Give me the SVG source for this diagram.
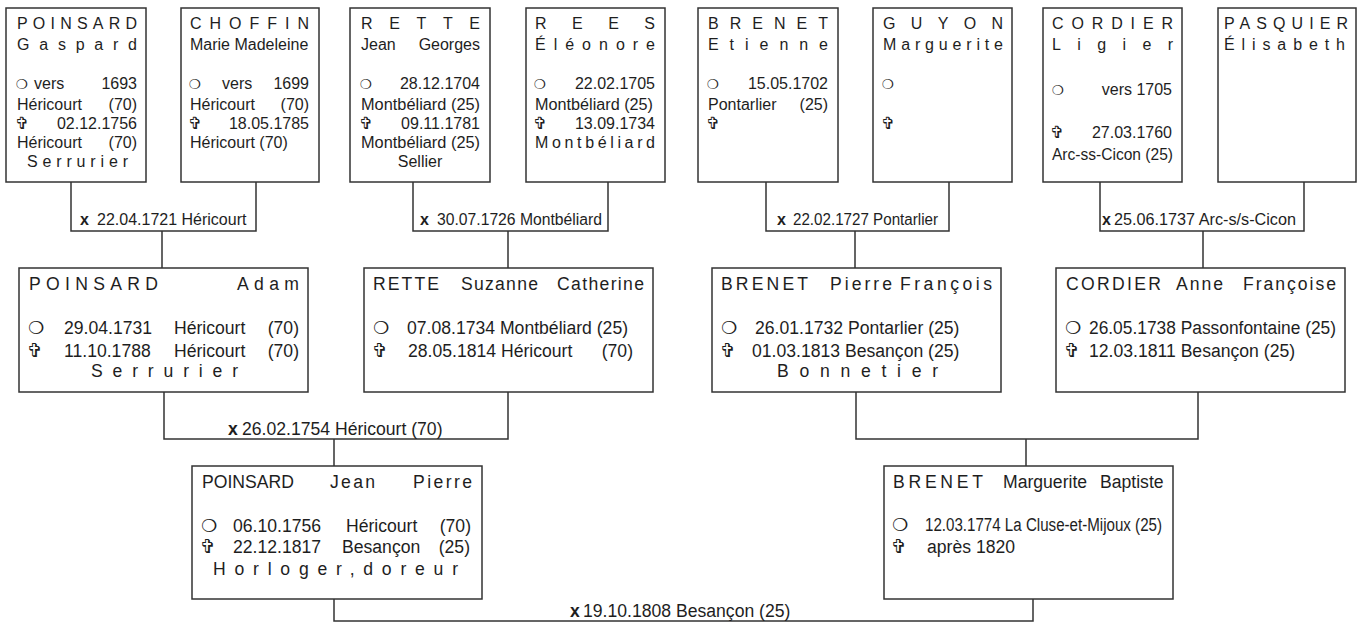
<svg xmlns="http://www.w3.org/2000/svg" width="1364" height="623" viewBox="0 0 1364 623">
<style>
.box{fill:#fff;stroke:#333;stroke-width:1.5}
.ln{fill:none;stroke:#333;stroke-width:1.5}
text{font-family:"Liberation Sans",Arial,sans-serif;fill:#1e1e1e}
.a{font-size:16px}
.b{font-size:17.6px}
.e{text-anchor:end}
.c{text-anchor:middle}
.x{font-weight:bold}
.s1{font-family:"DejaVu Sans",sans-serif;font-size:13.5px}
.s2{font-family:"DejaVu Sans",sans-serif;font-size:17px}
.s3{font-family:"DejaVu Sans",sans-serif;font-size:18px}
.s4{font-family:"DejaVu Sans",sans-serif;font-size:19px}
</style>
<rect width="1364" height="623" fill="#fff"/>
<g id="connectors">
<path class="ln" d="M71 182V231H256V182M162 231V268"/>
<path class="ln" d="M413 182V231H608V182M508 231V268"/>
<path class="ln" d="M766 182V231H949V182M855 231V268"/>
<path class="ln" d="M1100 182V231H1304V182M1203 231V268"/>
<path class="ln" d="M164 392V439H508V392M334 439V466"/>
<path class="ln" d="M856 392V439H1198V392M1026 439V466"/>
<path class="ln" d="M334 599V621H1033V599"/>
</g>
<g id="marriages">
<text class="a x" x="80" y="225">x</text><text class="a" x="97" y="225">22.04.1721 Héricourt</text>
<text class="a x" x="420" y="225">x</text><text class="a" x="437" y="225" textLength="165" lengthAdjust="spacingAndGlyphs">30.07.1726 Montbéliard</text>
<text class="a x" x="777" y="225">x</text><text class="a" x="793" y="225" textLength="145" lengthAdjust="spacingAndGlyphs">22.02.1727 Pontarlier</text>
<text class="a x" x="1102" y="225">x</text><text class="a" x="1114" y="225" textLength="182" lengthAdjust="spacingAndGlyphs">25.06.1737 Arc-s/s-Cicon</text>
<text class="b x" x="228" y="435">x</text><text class="b" x="242" y="435">26.02.1754 Héricourt (70)</text>
<text class="b x" x="570" y="617">x</text><text class="b" x="583" y="617">19.10.1808 Besançon (25)</text>
</g>
<g id="poinsard-gaspard">
<rect class="box" x="6" y="8" width="140" height="174"/>
<text class="a" x="17" y="29" textLength="120" lengthAdjust="spacing">POINSARD</text>
<text class="a" x="17" y="50" textLength="120" lengthAdjust="spacing">Gaspard</text>
<text class="s1" x="16" y="89">❍</text><text class="a" x="34" y="89">vers</text><text class="a e" x="137" y="89">1693</text>
<text class="a" x="17" y="110">Héricourt</text><text class="a e" x="137" y="110">(70)</text>
<text class="s2" x="15" y="129">✞</text><text class="a e" x="137" y="129">02.12.1756</text>
<text class="a" x="17" y="148">Héricourt</text><text class="a e" x="137" y="148">(70)</text>
<text class="a" x="27" y="167" textLength="101" lengthAdjust="spacing">Serrurier</text>
</g>
<g id="choffin-marie">
<rect class="box" x="181" y="8" width="138" height="174"/>
<text class="a" x="190" y="29" textLength="119" lengthAdjust="spacing">CHOFFIN</text>
<text class="a" x="190" y="50">Marie Madeleine</text>
<text class="s1" x="189" y="89">❍</text><text class="a" x="222" y="89">vers</text><text class="a e" x="309" y="89">1699</text>
<text class="a" x="190" y="110">Héricourt</text><text class="a e" x="309" y="110">(70)</text>
<text class="s2" x="188" y="129">✞</text><text class="a e" x="309" y="129">18.05.1785</text>
<text class="a" x="190" y="148">Héricourt (70)</text>
</g>
<g id="rette-jean">
<rect class="box" x="350" y="8" width="140" height="174"/>
<text class="a" x="361" y="29" textLength="119" lengthAdjust="spacing">RETTE</text>
<text class="a" x="361" y="50">Jean</text><text class="a e" x="480" y="50">Georges</text>
<text class="s1" x="360" y="89">❍</text><text class="a e" x="480" y="89">28.12.1704</text>
<text class="a" x="361" y="110" textLength="119" lengthAdjust="spacingAndGlyphs">Montbéliard (25)</text>
<text class="s2" x="359" y="129">✞</text><text class="a e" x="480" y="129">09.11.1781</text>
<text class="a" x="361" y="148" textLength="119" lengthAdjust="spacingAndGlyphs">Montbéliard (25)</text>
<text class="a c" x="420" y="167">Sellier</text>
</g>
<g id="rees-eleonore">
<rect class="box" x="526" y="8" width="139" height="174"/>
<text class="a" x="535" y="29" textLength="120" lengthAdjust="spacing">REES</text>
<text class="a" x="535" y="50" textLength="120" lengthAdjust="spacing">Éléonore</text>
<text class="s1" x="534" y="89">❍</text><text class="a e" x="655" y="89">22.02.1705</text>
<text class="a" x="535" y="110" textLength="118" lengthAdjust="spacingAndGlyphs">Montbéliard (25)</text>
<text class="s2" x="533" y="129">✞</text><text class="a e" x="655" y="129">13.09.1734</text>
<text class="a" x="535" y="148" textLength="120" lengthAdjust="spacing">Montbéliard</text>
</g>
<g id="brenet-etienne">
<rect class="box" x="698" y="8" width="140" height="174"/>
<text class="a" x="708" y="29" textLength="120" lengthAdjust="spacing">BRENET</text>
<text class="a" x="708" y="50" textLength="120" lengthAdjust="spacing">Etienne</text>
<text class="s1" x="707" y="89">❍</text><text class="a e" x="828" y="89">15.05.1702</text>
<text class="a" x="708" y="110">Pontarlier</text><text class="a e" x="828" y="110">(25)</text>
<text class="s2" x="706" y="129">✞</text>
</g>
<g id="guyon-marguerite">
<rect class="box" x="873" y="8" width="139" height="174"/>
<text class="a" x="883" y="29" textLength="120" lengthAdjust="spacing">GUYON</text>
<text class="a" x="883" y="50" textLength="120" lengthAdjust="spacing">Marguerite</text>
<text class="s1" x="882" y="89">❍</text>
<text class="s2" x="881" y="129">✞</text>
</g>
<g id="cordier-ligier">
<rect class="box" x="1043" y="8" width="139" height="174"/>
<text class="a" x="1052" y="29" textLength="121" lengthAdjust="spacing">CORDIER</text>
<text class="a" x="1052" y="50" textLength="121" lengthAdjust="spacing">Ligier</text>
<text class="s1" x="1052" y="95">❍</text><text class="a e" x="1172" y="95">vers 1705</text>
<text class="s2" x="1050" y="138">✞</text><text class="a e" x="1172" y="138">27.03.1760</text>
<text class="a" x="1052" y="160" textLength="121" lengthAdjust="spacingAndGlyphs">Arc-ss-Cicon (25)</text>
</g>
<g id="pasquier-elisabeth">
<rect class="box" x="1218" y="8" width="138" height="174"/>
<text class="a" x="1224" y="29" textLength="124" lengthAdjust="spacing">PASQUIER</text>
<text class="a" x="1224" y="50" textLength="121" lengthAdjust="spacing">Élisabeth</text>
</g>
<g id="poinsard-adam">
<rect class="box" x="19" y="268" width="289" height="124"/>
<text class="b" x="29" y="290" textLength="129" lengthAdjust="spacing">POINSARD</text>
<text class="b" x="237" y="290" textLength="62" lengthAdjust="spacing">Adam</text>
<text class="s3" x="28" y="334">❍</text><text class="b" x="64" y="334">29.04.1731</text><text class="b" x="174" y="334">Héricourt</text><text class="b e" x="299" y="334">(70)</text>
<text class="s4" x="27" y="357">✞</text><text class="b" x="64" y="357">11.10.1788</text><text class="b" x="174" y="357">Héricourt</text><text class="b e" x="299" y="357">(70)</text>
<text class="b" x="91" y="377" textLength="147" lengthAdjust="spacing">Serrurier</text>
</g>
<g id="rette-suzanne">
<rect class="box" x="364" y="268" width="289" height="124"/>
<text class="b" x="373" y="290" textLength="66" lengthAdjust="spacing">RETTE</text>
<text class="b" x="461" y="290" textLength="77" lengthAdjust="spacing">Suzanne</text>
<text class="b" x="557" y="290" textLength="87" lengthAdjust="spacing">Catherine</text>
<text class="s3" x="373" y="334">❍</text><text class="b" x="407" y="334">07.08.1734 Montbéliard (25)</text>
<text class="s4" x="372" y="357">✞</text><text class="b" x="408" y="357">28.05.1814 Héricourt</text><text class="b e" x="633" y="357">(70)</text>
</g>
<g id="brenet-pierre">
<rect class="box" x="712" y="268" width="289" height="124"/>
<text class="b" x="721" y="290" textLength="87" lengthAdjust="spacing">BRENET</text>
<text class="b" x="830" y="290" textLength="62" lengthAdjust="spacing">Pierre</text>
<text class="b" x="900" y="290" textLength="92" lengthAdjust="spacing">François</text>
<text class="s3" x="721" y="334">❍</text><text class="b" x="755" y="334">26.01.1732 Pontarlier (25)</text>
<text class="s4" x="720" y="357">✞</text><text class="b" x="752" y="357">01.03.1813 Besançon (25)</text>
<text class="b" x="777" y="377" textLength="161" lengthAdjust="spacing">Bonnetier</text>
</g>
<g id="cordier-anne">
<rect class="box" x="1056" y="268" width="289" height="124"/>
<text class="b" x="1066" y="290" textLength="95" lengthAdjust="spacing">CORDIER</text>
<text class="b" x="1176" y="290" textLength="47" lengthAdjust="spacing">Anne</text>
<text class="b" x="1243" y="290" textLength="93" lengthAdjust="spacing">Françoise</text>
<text class="s3" x="1065" y="334">❍</text><text class="b" x="1089" y="334" textLength="247" lengthAdjust="spacingAndGlyphs">26.05.1738 Passonfontaine (25)</text>
<text class="s4" x="1064" y="357">✞</text><text class="b" x="1089" y="357">12.03.1811 Besançon (25)</text>
</g>
<g id="poinsard-jean-pierre">
<rect class="box" x="192" y="466" width="290" height="133"/>
<text class="b" x="202" y="488">POINSARD</text>
<text class="b" x="330" y="488" textLength="45" lengthAdjust="spacing">Jean</text>
<text class="b" x="413" y="488" textLength="59" lengthAdjust="spacing">Pierre</text>
<text class="s3" x="201" y="532">❍</text><text class="b" x="233" y="532">06.10.1756</text><text class="b" x="346" y="532">Héricourt</text><text class="b e" x="471" y="532">(70)</text>
<text class="s4" x="200" y="553">✞</text><text class="b" x="233" y="553">22.12.1817</text><text class="b" x="342" y="553">Besançon</text><text class="b e" x="470" y="553">(25)</text>
<text class="b" x="213" y="575" textLength="245" lengthAdjust="spacing">Horloger,doreur</text>
</g>
<g id="brenet-marguerite">
<rect class="box" x="884" y="466" width="289" height="133"/>
<text class="b" x="893" y="488" textLength="90" lengthAdjust="spacing">BRENET</text>
<text class="b" x="1003" y="488">Marguerite</text>
<text class="b" x="1100" y="488">Baptiste</text>
<text class="s3" x="892" y="531">❍</text><text class="b" x="925" y="531" textLength="237" lengthAdjust="spacingAndGlyphs">12.03.1774 La Cluse-et-Mijoux (25)</text>
<text class="s4" x="891" y="553">✞</text><text class="b" x="927" y="553">après 1820</text>
</g>
</svg>
